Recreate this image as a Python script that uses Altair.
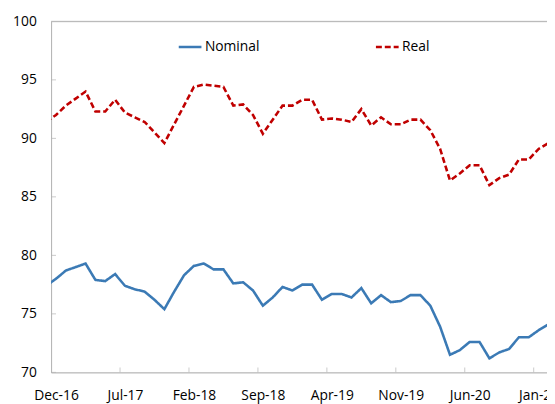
import altair as alt
import pandas as pd

# Monthly observations, Nov-16 .. Feb-21 (first and last are partly clipped)
months = [p.strftime("%b-%y") for p in pd.period_range("2016-11", "2021-02", freq="M")]

nominal = [77.4, 78.0, 78.7, 79.0, 79.3, 77.9, 77.8, 78.4, 77.4, 77.1,
           76.9, 76.2, 75.4, 76.9, 78.3, 79.1, 79.3, 78.8, 78.8, 77.6,
           77.7, 77.0, 75.7, 76.4, 77.3, 77.0, 77.5, 77.5, 76.2, 76.7,
           76.7, 76.4, 77.2, 75.9, 76.6, 76.0, 76.1, 76.6, 76.6, 75.7,
           73.9, 71.5, 71.9, 72.6, 72.6, 71.2, 71.7, 72.0, 73.0, 73.0,
           73.6, 74.1]

real = [91.4, 92.0, 92.8, 93.4, 94.0, 92.3, 92.3, 93.3, 92.2, 91.8,
        91.4, 90.5, 89.6, 91.2, 92.8, 94.4, 94.6, 94.5, 94.4, 92.8,
        92.9, 92.0, 90.4, 91.6, 92.8, 92.8, 93.3, 93.3, 91.6, 91.7,
        91.6, 91.4, 92.5, 91.1, 91.8, 91.2, 91.2, 91.6, 91.6, 90.7,
        89.1, 86.4, 87.0, 87.7, 87.7, 86.0, 86.6, 86.9, 88.2, 88.2,
        89.1, 89.6]

series_names = ["Nominal", "Real"]
series_colors = ["#3B7AB5", "#C00000"]

tick_labels = ["Dec-16", "Jul-17", "Feb-18", "Sep-18", "Apr-19", "Nov-19", "Jun-20", "Jan-21"]
tick_months = [0, 7, 14, 21, 28, 35, 42, 49]   # months after Dec-16
y_ticks = [70, 75, 80, 85, 90, 95, 100]

# month position: Dec-16 tick is at 0, observations sit mid-month
rows = []
for i, m in enumerate(months):
    pos = i - 1 + 0.5
    rows.append({"month": m, "t": pos, "value": nominal[i], "series": "Nominal"})
    rows.append({"month": m, "t": pos, "value": real[i], "series": "Real"})
df = pd.DataFrame(rows)

W, H = 503, 356
XMAX = 50.35
FONT = "Open Sans"
AXIS_GREY = "#B3B3B3"

label_expr = "[" + ",".join("'%s'" % s for s in tick_labels) + "][round(datum.value / 7)]"

x_scale = alt.Scale(domain=[0, XMAX], nice=False, zero=False)
y_scale = alt.Scale(domain=[70, 100], nice=False, zero=False)

legend_props = dict(title=None, orient="none", direction="horizontal",
                    legendX=128, legendY=13,
                    symbolType="stroke", symbolSize=530,
                    symbolStrokeWidth=2.6, labelFont=FONT,
                    labelFontSize=14, labelColor="#000000",
                    labelOffset=2, columnPadding=112)

lines = alt.Chart(df).mark_line(clip=True, strokeWidth=2.6).encode(
    x=alt.X("t:Q", scale=x_scale,
            axis=alt.Axis(values=tick_months, labelExpr=label_expr, title=None,
                          grid=False, ticks=False, domainColor=AXIS_GREY,
                          labelFont=FONT, labelFontSize=14, labelColor="#000000",
                          labelPadding=17, labelOffset=5, labelFlush=False,
                          labelOverlap=False, labelBound=False)),
    y=alt.Y("value:Q", scale=y_scale,
            axis=alt.Axis(values=y_ticks, title=None, grid=False, ticks=False,
                          domainColor=AXIS_GREY, labelFont=FONT, labelFontSize=14,
                          labelColor="#000000", labelPadding=15)),
    color=alt.Color("series:N",
                    scale=alt.Scale(domain=series_names, range=series_colors),
                    legend=alt.Legend(**legend_props)),
    strokeDash=alt.StrokeDash("series:N",
                              scale=alt.Scale(domain=series_names, range=[[1, 0], [6, 3]]),
                              legend=alt.Legend(**legend_props)),
    order="t:Q",
)

top_line = alt.Chart(pd.DataFrame({"v": [100]})).mark_rule(color=AXIS_GREY, strokeWidth=1).encode(
    y=alt.Y("v:Q", scale=y_scale)
)

y_tick_marks = alt.Chart(pd.DataFrame({"v": y_ticks[:-1]})).mark_tick(
    color=AXIS_GREY, thickness=1, size=5, orient="horizontal"
).encode(y=alt.Y("v:Q", scale=y_scale), x=alt.value(2.5))

x_tick_marks = alt.Chart(pd.DataFrame({"m": tick_months[1:]})).mark_tick(
    color=AXIS_GREY, thickness=1, size=5, orient="vertical"
).encode(x=alt.X("m:Q", scale=x_scale), y=alt.value(H - 2.5))

chart = alt.layer(top_line, y_tick_marks, x_tick_marks, lines).properties(
    width=W, height=H,
    autosize=alt.AutoSizeParams(type="none"),
    padding={"left": 43.7, "top": 10.7, "right": 0, "bottom": 34},
).configure_view(stroke=None).configure(background="white")

chart.save("out.html", embed_options={"renderer": "svg", "actions": False})
